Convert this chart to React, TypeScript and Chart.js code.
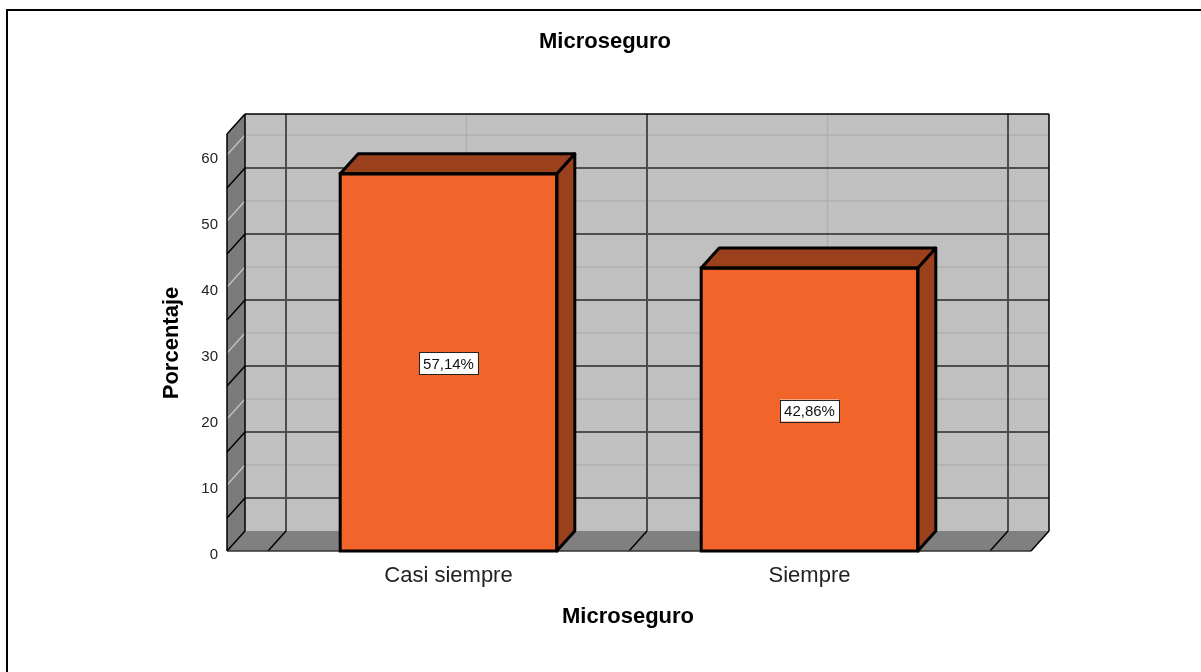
import React, { useEffect, useRef } from "react";
import { Chart, registerables } from "chart.js";

Chart.register(...registerables);

const chartTitle = "Microseguro";
const xAxisTitle = "Microseguro";
const yAxisTitle = "Porcentaje";
const categories = ["Casi siempre", "Siempre"];
const percentages = [57.14, 42.86];
const valueLabels = ["57,14%", "42,86%"];
const yTickValues = [0, 10, 20, 30, 40, 50, 60];
const darkGridValues = [5, 15, 25, 35, 45, 55];
const yMax = 63.18;

const DX = 18;
const DY = -20;
const WALL_PAD = 41;
const FONT = "'Liberation Sans', Arial, sans-serif";

const line = (ctx: CanvasRenderingContext2D, x1: number, y1: number, x2: number, y2: number, color: string, w: number) => {
  ctx.save();
  ctx.strokeStyle = color;
  ctx.lineWidth = w;
  ctx.beginPath();
  ctx.moveTo(x1, y1);
  ctx.lineTo(x2, y2);
  ctx.stroke();
  ctx.restore();
};

const poly = (ctx: CanvasRenderingContext2D, pts: number[][], fill: string, stroke?: string, w?: number) => {
  ctx.save();
  ctx.beginPath();
  pts.forEach((p, i) => (i === 0 ? ctx.moveTo(p[0], p[1]) : ctx.lineTo(p[0], p[1])));
  ctx.closePath();
  ctx.fillStyle = fill;
  ctx.fill();
  if (stroke) {
    ctx.strokeStyle = stroke;
    ctx.lineWidth = w || 1;
    ctx.lineJoin = "round";
    ctx.stroke();
  }
  ctx.restore();
};

const box3d = {
  id: "box3d",
  beforeDatasetsDraw(chart: any) {
    const ctx: CanvasRenderingContext2D = chart.ctx;
    const xs = chart.scales.x;
    const ys = chart.scales.y;
    const ca = chart.chartArea;
    const fl = ca.left - WALL_PAD;
    const fr = ca.right + WALL_PAD;
    const ft = ca.top;
    const fb = ca.bottom;
    const catW = xs.getPixelForValue(1) - xs.getPixelForValue(0);

    // back wall
    poly(ctx, [[fl + DX, ft + DY], [fr + DX, ft + DY], [fr + DX, fb + DY], [fl + DX, fb + DY]], "#c0c0c0");
    // side wall
    poly(ctx, [[fl, ft], [fl + DX, ft + DY], [fl + DX, fb + DY], [fl, fb]], "#7b7b7b");
    // floor
    poly(ctx, [[fl, fb], [fl + DX, fb + DY], [fr + DX, fb + DY], [fr, fb]], "#808080");

    // light grid at tick values
    yTickValues.forEach((v) => {
      if (v === 0) return;
      const py = ys.getPixelForValue(v);
      line(ctx, fl + DX, py + DY, fr + DX, py + DY, "#b0b0b0", 1.5);
      line(ctx, fl, py, fl + DX, py + DY, "#c4c4c4", 1.2);
    });
    categories.forEach((_, i) => {
      const px = xs.getPixelForValue(i) + DX;
      line(ctx, px, ft + DY, px, fb + DY, "#b0b0b0", 1.5);
    });

    // dark grid
    darkGridValues.forEach((v) => {
      const py = ys.getPixelForValue(v);
      line(ctx, fl + DX, py + DY, fr + DX, py + DY, "#2a2a2a", 1.5);
      line(ctx, fl, py, fl + DX, py + DY, "#000", 1.5);
    });
    for (let i = 0; i <= categories.length; i++) {
      const bx = xs.getPixelForValue(0) - catW / 2 + i * catW;
      line(ctx, bx + DX, ft + DY, bx + DX, fb + DY, "#4d4d4d", 2);
      line(ctx, bx + DX, fb + DY, bx, fb, "#000", 1.5);
    }

    // outlines
    line(ctx, fl + DX, ft + DY, fr + DX, ft + DY, "#000", 1.5);
    line(ctx, fr + DX, ft + DY, fr + DX, fb + DY, "#000", 1.5);
    line(ctx, fl + DX, ft + DY, fl + DX, fb + DY, "#000", 1.5);
    line(ctx, fl, ft, fl + DX, ft + DY, "#000", 1.5);
    line(ctx, fl, ft, fl, fb, "#000", 1.5);
    line(ctx, fl, fb, fl + DX, fb + DY, "#000", 1.5);
    line(ctx, fl, fb, fr, fb, "#333", 1.5);
    line(ctx, fr, fb, fr + DX, fb + DY, "#000", 1.5);
  },
  afterDatasetsDraw(chart: any) {
    const ctx: CanvasRenderingContext2D = chart.ctx;
    const meta = chart.getDatasetMeta(0);
    meta.data.forEach((el: any, i: number) => {
      const { x, y, base, width } = el.getProps(["x", "y", "base", "width"], true);
      const l = x - width / 2;
      const r = x + width / 2;
      // right face
      poly(ctx, [[r, y], [r + DX, y + DY], [r + DX, base + DY], [r, base]], "#9b401c", "#000", 3);
      // top face
      poly(ctx, [[l, y], [l + DX, y + DY], [r + DX, y + DY], [r, y]], "#9b401c", "#000", 3);
      // front outline
      ctx.save();
      ctx.strokeStyle = "#000";
      ctx.lineWidth = 3;
      ctx.strokeRect(l, y, width, base - y);
      ctx.restore();

      // value label
      const cy = (y + base) / 2 + 1;
      ctx.save();
      ctx.font = `15px ${FONT}`;
      const tw = ctx.measureText(valueLabels[i]).width;
      const bw = tw + 8;
      const bh = 22;
      ctx.fillStyle = "#fff";
      ctx.fillRect(x - bw / 2, cy - bh / 2, bw, bh);
      ctx.strokeStyle = "#222";
      ctx.lineWidth = 1;
      ctx.strokeRect(Math.round(x - bw / 2) + 0.5, Math.round(cy - bh / 2) + 0.5, Math.round(bw), bh);
      ctx.fillStyle = "#111";
      ctx.textAlign = "center";
      ctx.textBaseline = "middle";
      ctx.fillText(valueLabels[i], x, cy + 1);
      ctx.restore();
    });
  },
  afterDraw(chart: any) {
    const ctx: CanvasRenderingContext2D = chart.ctx;
    const xs = chart.scales.x;
    const ys = chart.scales.y;
    const ca = chart.chartArea;
    const fl = ca.left - WALL_PAD;
    ctx.save();
    // outer frame
    ctx.strokeStyle = "#000";
    ctx.lineWidth = 2;
    ctx.strokeRect(7, 10, 1400, 900);

    // title
    ctx.fillStyle = "#000";
    ctx.font = `bold 22px ${FONT}`;
    ctx.textAlign = "center";
    ctx.textBaseline = "middle";
    ctx.fillText(chartTitle, 605, 42);

    // y tick labels
    ctx.font = `15px ${FONT}`;
    ctx.fillStyle = "#222";
    ctx.textAlign = "right";
    yTickValues.forEach((v) => {
      ctx.fillText(String(v), fl - 9, ys.getPixelForValue(v) + 4);
    });

    // x tick labels
    ctx.font = `22px ${FONT}`;
    ctx.fillStyle = "#222";
    ctx.textAlign = "center";
    categories.forEach((c, i) => {
      ctx.fillText(c, xs.getPixelForValue(i), ca.bottom + 25);
    });

    // axis titles
    ctx.fillStyle = "#000";
    ctx.font = `bold 22px ${FONT}`;
    ctx.fillText(xAxisTitle, 628, 617);
    ctx.translate(172, 343);
    ctx.rotate(-Math.PI / 2);
    ctx.fillText(yAxisTitle, 0, 0);
    ctx.restore();
  },
};

export default function App() {
  const ref = useRef<HTMLCanvasElement>(null);
  useEffect(() => {
    if (!ref.current) return;
    const chart = new Chart(ref.current, {
      type: "bar",
      data: {
        labels: categories,
        datasets: [
          {
            data: percentages,
            backgroundColor: "#f2652a",
            borderColor: "#000",
            borderWidth: 0,
            barPercentage: 0.6,
            categoryPercentage: 1,
          },
        ],
      },
      options: {
        animation: false,
        responsive: false,
        devicePixelRatio: 1,
        layout: { padding: { left: 268, right: 211, top: 134, bottom: 121 } },
        plugins: { legend: { display: false }, tooltip: { enabled: false }, title: { display: false } },
        scales: {
          x: { display: false, offset: true },
          y: { display: false, min: 0, max: yMax },
        },
      },
      plugins: [box3d],
    });
    return () => chart.destroy();
  }, []);
  return (
    <div style={{ position: "absolute", left: 0, top: 0, width: 1201, height: 672, background: "#fff" }}>
      <canvas ref={ref} width={1201} height={672} style={{ display: "block" }} />
    </div>
  );
}
